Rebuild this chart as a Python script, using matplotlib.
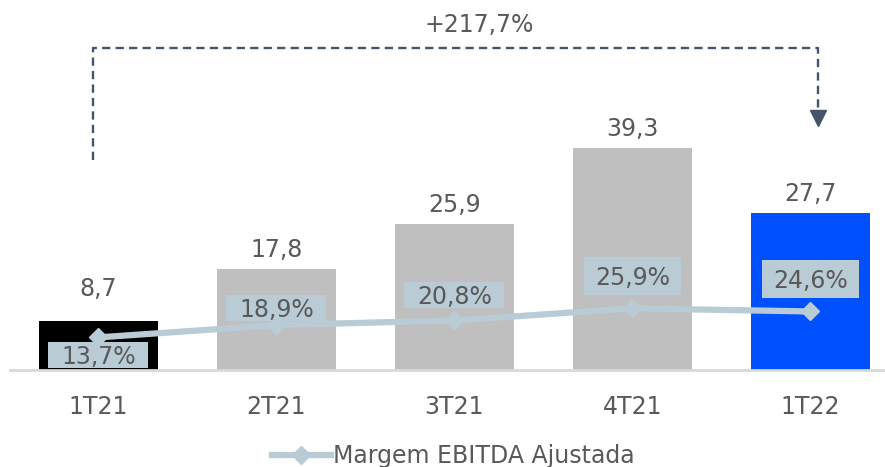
import numpy as np
import matplotlib
matplotlib.use("Agg")
from matplotlib import pyplot as plt
from matplotlib.patches import Rectangle
from matplotlib.transforms import Affine2D

quarters = ["1T21", "2T21", "3T21", "4T21", "1T22"]
ebitda = [8.7, 17.8, 25.9, 39.3, 27.7]
margem = [13.7, 18.9, 20.8, 25.9, 24.6]
growth_label = "+217,7%"

bar_colors = ["#000000", "#BFBFBF", "#BFBFBF", "#BFBFBF", "#0050FF"]
txt = "#595959"
line_c = "#B9CBD5"
dark = "#44546A"

plt.rcParams["font.family"] = ["DejaVu Sans"]
fs = 17

fig = plt.figure(figsize=(8.85, 4.67), dpi=100)
W, H = 885, 467
# axes placed in pixels: x from 9.5 to 885, baseline at y=370 (from top)
ax1 = fig.add_axes([9.5 / W, (H - 370) / H, (885 - 9.5) / W, (370 - 8.4) / H])
x = np.arange(len(quarters))
ax1.bar(x, ebitda, width=0.67, color=bar_colors, zorder=2)
ax1.set_xlim(-0.5, 4.42)
ax1.set_ylim(0, 64)
for s in ["top", "right", "left"]:
    ax1.spines[s].set_visible(False)
ax1.spines["bottom"].set_color("#D9D9D9")
ax1.spines["bottom"].set_linewidth(2)
ax1.set_yticks([])
ax1.set_xticks(x)
ax1.set_xticklabels(quarters, fontsize=fs, color=txt)
ax1.tick_params(axis="x", length=0, pad=18)

# value labels above bars
lab_off = [20, 7, 7, 7, 7]
for i, v in enumerate(ebitda):
    ax1.annotate(f"{v:.1f}".replace(".", ","), (x[i], v), xytext=(0, lab_off[i]),
                 textcoords="offset pixels", ha="center", va="bottom",
                 fontsize=fs, color=txt)

# growth bracket
ax1.plot([-0.031, -0.031, 4.042, 4.042], [37.2, 57.0, 57.0, 46.0], ls=(0, (3.5, 2.2)),
         color=dark, lw=1.7, clip_on=False, zorder=3)
ax1.plot([4.042], [44.6], marker="v", ms=11, color=dark, clip_on=False, zorder=3)
ax1.text(2.14, 61.1, growth_label, ha="center", va="center", fontsize=fs, color=txt)

# margin line on secondary axis
ax2 = ax1.twinx()
ax2.set_ylim(0, 64 * 5.65 / 2.38)
ax2.set_axis_off()
ln, = ax2.plot(x, margem, color=line_c, lw=4.5, marker="D", ms=9,
               label="Margem EBITDA Ajustada", zorder=4)

# percentage labels in shaded boxes
m_off = [-18, 17, 25, 32, 32]
box_w = [100, 100, 100, 97, 97]
box_h = [26, 26, 26, 38, 38]
for i, v in enumerate(margem):
    px, py = ax2.transData.transform((x[i], v))
    cy = py + m_off[i]
    ax2.add_patch(Rectangle((px - box_w[i] / 2, cy - box_h[i] / 2), box_w[i], box_h[i],
                            transform=Affine2D(), fc=line_c, ec="none", zorder=5,
                            clip_on=False))
    ax2.annotate(f"{v:.1f}%".replace(".", ","), (x[i], v), xytext=(0, m_off[i] + 1),
                 textcoords="offset pixels", ha="center", va="center_baseline",
                 fontsize=fs, color=txt, zorder=6)

fig.legend(handles=[ln], loc="center", bbox_to_anchor=(0.512, 0.024), frameon=False,
           fontsize=fs, labelcolor=txt, handlelength=2.5, handletextpad=0.1)

fig.savefig("out.png", dpi=100)
